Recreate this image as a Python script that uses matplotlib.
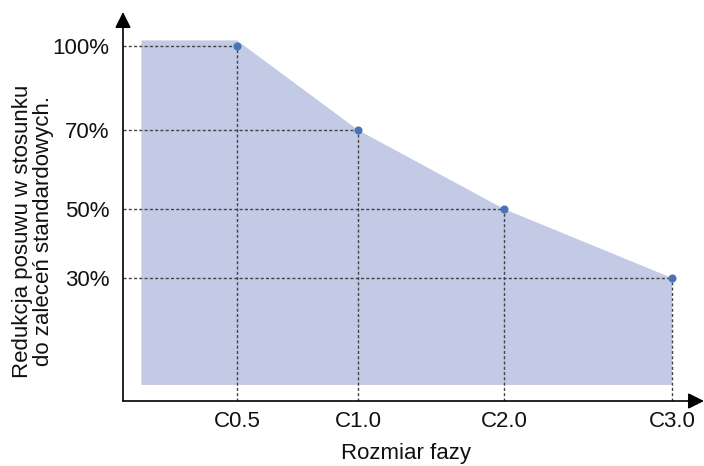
import numpy as np
import matplotlib
matplotlib.use("Agg")
import matplotlib.pyplot as plt

# Chamfer sizes and recommended feed reduction
categories = ["C0.5", "C1.0", "C2.0", "C3.0"]
sizes = [0.5, 1.0, 2.0, 3.0]
reduction = [100, 70, 50, 30]
y_tick_labels = ["100%", "70%", "50%", "30%"]

# Schematic (non-linear) axis layout: value -> distance along axis in px
X_KNOTS_POS = [114, 235, 381, 549]
X_AXIS_LEN = 581
Y_KNOTS_POS = [123, 192, 271, 355]   # for 30, 50, 70, 100 %
Y_AXIS_LEN = 389

# Extent of the shaded band
FILL_LEFT = 0.105
FILL_BOTTOM = -1
FILL_TOP = 102

TEXT = "#111111"
FILL = "#c3cae6"
POINT = "#4a72b8"
GUIDE = "#444444"
FONT = 16

plt.rcParams["font.family"] = ["Liberation Sans", "DejaVu Sans"]


def piecewise(xs, ys):
    xs = np.asarray(xs, float)
    ys = np.asarray(ys, float)

    def f(v):
        v = np.asarray(v, float)
        flat = np.atleast_1d(v).astype(float)
        out = np.interp(flat, xs, ys)
        lo = flat < xs[0]
        hi = flat > xs[-1]
        out[lo] = ys[0] + (flat[lo] - xs[0]) * (ys[1] - ys[0]) / (xs[1] - xs[0])
        out[hi] = ys[-1] + (flat[hi] - xs[-1]) * (ys[-1] - ys[-2]) / (xs[-1] - xs[-2])
        return out.reshape(v.shape)
    return f


x_fwd = piecewise(sizes, X_KNOTS_POS)
x_inv = piecewise(X_KNOTS_POS, sizes)
y_vals_sorted = sorted(reduction)
y_fwd = piecewise(y_vals_sorted, Y_KNOTS_POS)
y_inv = piecewise(Y_KNOTS_POS, y_vals_sorted)

W, H = 704, 466
fig = plt.figure(figsize=(W / 100, H / 100), dpi=100)
ax = fig.add_axes([123 / W, (H - 401) / H, (W - 123) / W, Y_AXIS_LEN / H])
ax.set_xscale("function", functions=(x_fwd, x_inv))
ax.set_yscale("function", functions=(y_fwd, y_inv))
x0, x1 = float(x_inv(0.0)), float(x_inv(float(X_AXIS_LEN)))
y0, y1 = float(y_inv(0.0)), float(y_inv(float(Y_AXIS_LEN)))
ax.set_xlim(x0, x1)
ax.set_ylim(y0, y1)

# Shaded band under the curve
fx = [FILL_LEFT, FILL_LEFT] + sizes + [sizes[-1]]
fy = [FILL_BOTTOM, FILL_TOP, FILL_TOP] + reduction[1:] + [FILL_BOTTOM]
ax.fill(fx, fy, color=FILL, lw=0, zorder=1)

# Guide lines to both axes
ax.hlines(reduction, x0, sizes, colors=GUIDE, lw=1.0,
          linestyles=(0, (2.2, 1.6)), zorder=2)
ax.vlines(sizes, y0, reduction, colors=GUIDE, lw=1.0,
          linestyles=(0, (2.2, 1.6)), zorder=2)

ax.plot(sizes, reduction, "o", color=POINT, ms=4.8, zorder=3)

# Axes drawn as arrows
for spine in ax.spines.values():
    spine.set_visible(False)
arrow = dict(arrowstyle="-|>,head_length=0.6,head_width=0.3", color="black",
             lw=1.2, mutation_scale=16, shrinkA=0, shrinkB=0)
ax.annotate("", xy=(1, 0), xytext=(0, 0), xycoords="axes fraction",
            arrowprops=arrow, annotation_clip=False)
ax.annotate("", xy=(0, 1), xytext=(0, 0), xycoords="axes fraction",
            arrowprops=arrow, annotation_clip=False)

ax.set_xticks(sizes, categories)
ax.set_yticks(reduction, y_tick_labels)
ax.tick_params(axis="x", length=0, pad=7, labelsize=FONT, labelcolor=TEXT)
ax.tick_params(axis="y", length=0, pad=10, labelsize=FONT, labelcolor=TEXT)
ax.minorticks_off()

fig.text(406 / W, 1 - 453 / H, "Rozmiar fazy", ha="center", va="center",
         fontsize=FONT, color=TEXT)
fig.text(33 / W, 1 - 231 / H, "Redukcja posuwu w stosunku\ndo zaleceń standardowych.",
         rotation=90, ha="center", va="center", multialignment="center",
         fontsize=FONT, color=TEXT, linespacing=1.0)

fig.savefig("out.png", dpi=100)
